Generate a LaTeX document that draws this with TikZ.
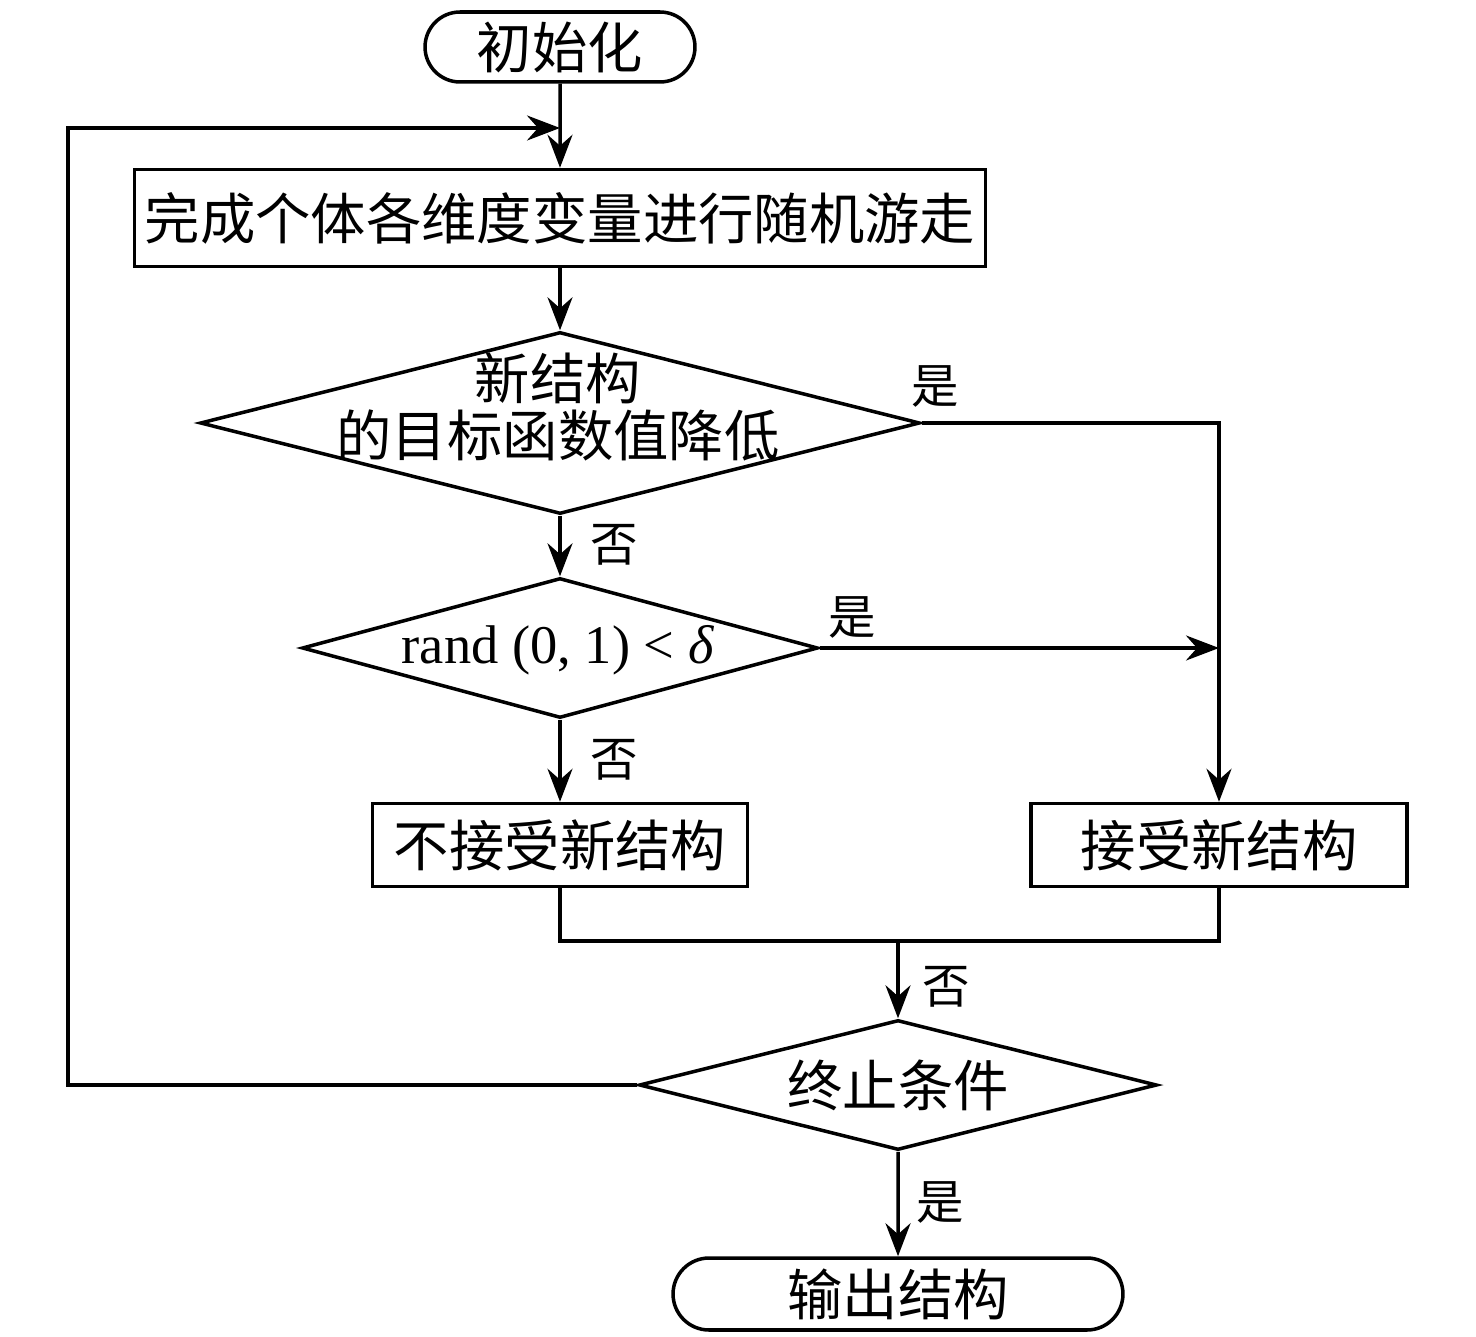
\documentclass[tikz,border=0pt]{standalone}
\usepackage{fontspec}
\setmainfont{Liberation Serif}
\newfontfamily\cjk{Noto Sans CJK SC}
\usetikzlibrary{shapes.geometric,shapes.misc,arrows.meta}
\begin{document}
\begin{tikzpicture}[x=0.02cm,y=-0.02cm,
  line width=2pt,
  every node/.style={font=\cjk\fontsize{31.5}{32.4}\selectfont},
  term/.style={draw,rounded rectangle,inner sep=0pt,line width=2pt},
  proc/.style={draw,rectangle,inner sep=0pt,line width=2pt},
  dec/.style={draw,diamond,inner sep=0pt,line width=2pt},
  lbl/.style={font=\cjk\fontsize{27}{32}\selectfont},
  arr/.style={-{Stealth[length=0.66cm,width=0.5cm,inset=0.22cm]}},
]
\fill[white] (0,0) rectangle (1476,1337);
\useasboundingbox (0,0) rectangle (1476,1337);

\node[term,minimum width=5.4cm,minimum height=1.4cm] (start) at (560,47) {初始化};
\node[proc,minimum width=17.02cm,minimum height=1.94cm] (walk) at (560,218) {完成个体各维度变量进行随机游走};
\node[dec,minimum width=14.4cm,minimum height=3.64cm] (d1) at (560,423) {};
\node[align=center] (d1t) at (558,407) {新结构\\的目标函数值降低};
\node[dec,minimum width=10.32cm,minimum height=2.8cm] (d2) at (560,648) {};
\node[font=\rmfamily\fontsize{31}{36}\selectfont] (d2t) at (558,650) {rand (0, 1) < \textit{δ}};
\node[proc,minimum width=7.5cm,minimum height=1.66cm] (rej) at (560,845) {不接受新结构};
\node[proc,minimum width=7.52cm,minimum height=1.66cm] (acc) at (1219,845) {接受新结构};
\node[dec,minimum width=10.36cm,minimum height=2.6cm] (d3) at (898,1085) {};
\node (d3t) at (898,1085) {终止条件};
\node[term,minimum width=9cm,minimum height=1.44cm] (out) at (898,1294) {输出结构};

\coordinate (top) at (560,128);
\coordinate (L1) at (68,1085);
\coordinate (L2) at (68,128);
\coordinate (R1) at (1219,423);
\coordinate (R2) at (1219,648);
\coordinate (J) at (898,941);

\draw[arr] (start) -- (walk);
\draw[arr] (d3.west) -- (L1) -- (L2) -- (top);
\draw[arr] (walk) -- (d1);
\draw[arr] (d1) -- (d2);
\draw[arr] (d2) -- (rej);
\draw[arr] (d1.east) -- (R1) -- (acc.north);
\draw[arr] (d2.east) -- (R2);
\draw (rej.south) |- (J) -| (acc.south);
\draw[arr] (J) -- (d3);
\draw[arr] (d3) -- (out);

\node[lbl] (y1) at (935,386) {是};
\node[lbl] (n1) at (614,545) {否};
\node[lbl] (y2) at (852,617) {是};
\node[lbl] (n2) at (614,760) {否};
\node[lbl] (n3) at (946,987) {否};
\node[lbl] (y3) at (940,1202) {是};
\end{tikzpicture}
\end{document}
